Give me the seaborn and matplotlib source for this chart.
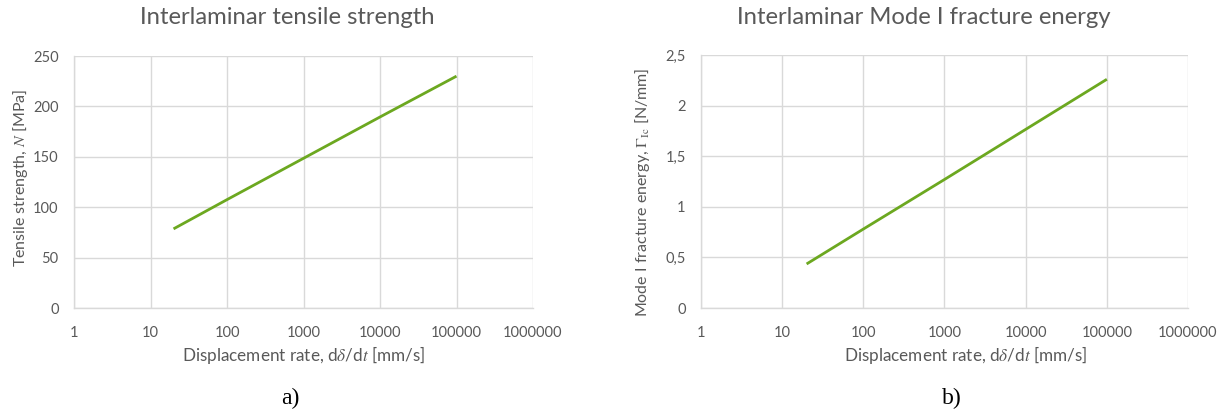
import matplotlib
matplotlib.use("Agg")
import matplotlib.pyplot as plt
import matplotlib.ticker as mticker
import seaborn as sns
import pandas as pd

# Displacement rate [mm/s] and the corresponding interlaminar properties
rate = [20, 100, 1000, 10000, 100000]
tensile_strength = [78.5, 107.5, 148.5, 189.5, 230.0]
fracture_energy = [0.435, 0.78, 1.27, 1.765, 2.26]

x_ticks = [1, 10, 100, 1000, 10000, 100000, 1000000]
strength_ticks = [0, 50, 100, 150, 200, 250]
energy_ticks = [0, 0.5, 1.0, 1.5, 2.0, 2.5]

sns.set_theme(style="whitegrid")
plt.rcParams["font.family"] = ["Lato", "DejaVu Sans"]
plt.rcParams["mathtext.fontset"] = "stix"

text_grey = "#595959"
grid_grey = "#d9d9d9"
line_green = "#6CA820"

df_a = pd.DataFrame({"rate": rate, "value": tensile_strength})
df_b = pd.DataFrame({"rate": rate, "value": fracture_energy})

W, H = 1224, 416
fig = plt.figure(figsize=(W / 100, H / 100), dpi=100)
ax_a = fig.add_axes([74 / W, 1 - 308 / H, 459 / W, 252 / H])
ax_b = fig.add_axes([701 / W, 1 - 308 / H, 487 / W, 253 / H])

# axes, data, y ticks, y max, title, title centre x, y label, y label centre y,
# y label x (axes fraction), x label centre x
panels = [
    (ax_a, df_a, strength_ticks, 250, "Interlaminar tensile strength", 287,
     "Tensile strength, $\\mathit{N}$ [MPa]", 178, -0.095, 304),
    (ax_b, df_b, energy_ticks, 2.5, "Interlaminar Mode I fracture energy", 924,
     "Mode I fracture energy, $\\mathit{\\Gamma}_{\\mathrm{Ic}}$ [N/mm]", 192, -0.1, 966),
]

for ax, df, yt, ymax, title, title_x, ylabel, ylabel_y, ylabel_x, xlabel_x in panels:
    sns.lineplot(data=df, x="rate", y="value", ax=ax, color=line_green,
                 linewidth=2.0, solid_capstyle="butt")
    ax.set_xscale("log")
    ax.set_xlim(1, 1000000)
    ax.set_ylim(0, ymax)
    ax.set_xticks(x_ticks)
    ax.xaxis.set_major_formatter(mticker.FuncFormatter(lambda v, p: f"{int(round(v))}"))
    ax.xaxis.set_minor_locator(mticker.NullLocator())
    ax.set_yticks(yt)
    ax.yaxis.set_major_formatter(
        mticker.FuncFormatter(lambda v, p: (f"{v:g}").replace(".", ",")))
    ax.grid(True, color=grid_grey, linewidth=1.0)
    for side in ["top", "right"]:
        ax.spines[side].set_visible(False)
    for side in ["left", "bottom"]:
        ax.spines[side].set_color(grid_grey)
        ax.spines[side].set_linewidth(1.0)
    ax.tick_params(axis="both", colors=text_grey, labelsize=10.5, length=0)
    ax.tick_params(axis="x", pad=13)
    ax.tick_params(axis="y", pad=11)

    bbox = ax.get_position()
    ax.set_xlabel("Displacement rate, d$\\delta$/d$t$ [mm/s]", color=text_grey,
                  fontsize=12.3)
    ax.xaxis.set_label_coords((xlabel_x / W - bbox.x0) / bbox.width,
                              ((H - 355) / H - bbox.y0) / bbox.height)
    ax.xaxis.label.set_va("center")
    ax.set_ylabel(ylabel, color=text_grey, fontsize=11.5)
    ax.yaxis.set_label_coords(ylabel_x, ((H - ylabel_y) / H - bbox.y0) / bbox.height)

    fig.text(title_x / W, 1 - 17 / H, title, color=text_grey, fontsize=17.2,
             ha="center", va="center")

fig.text(290 / W, 1 - 398 / H, "a)", family="Liberation Serif", fontsize=17,
         ha="center", va="center", color="#000000")
fig.text(952 / W, 1 - 398 / H, "b)", family="Liberation Serif", fontsize=17,
         ha="center", va="center", color="#000000")

fig.savefig("out.png", dpi=100, facecolor="white")
